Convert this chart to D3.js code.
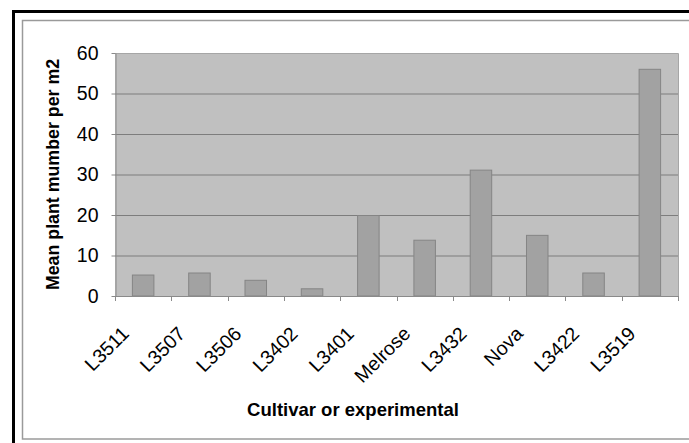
<!DOCTYPE html>
<html>
<head>
<meta charset="utf-8">
<script src="https://cdn.jsdelivr.net/npm/d3@7/dist/d3.min.js"></script>
<style>
  html, body { margin: 0; padding: 0; background: #ffffff; }
  svg { display: block; }
  text { font-family: "Liberation Sans", Arial, sans-serif; fill: #000; }
</style>
</head>
<body>
<svg id="chart" width="689" height="443"></svg>
<script>
// Mean plant number per m2 by cultivar / experimental line
const categories = ["L3511", "L3507", "L3506", "L3402", "L3401", "Melrose", "L3432", "Nova", "L3422", "L3519"];
const plantsPerM2 = [5.3, 5.8, 4.0, 1.9, 20.0, 13.9, 31.2, 15.1, 5.8, 56.1];
const yTicks = [0, 10, 20, 30, 40, 50, 60];
const yTitle = "Mean plant mumber per m2";
const xTitle = "Cultivar or experimental";

const svg = d3.select("#chart");
const W = 689, H = 443;
const plot = { left: 115, right: 678, top: 53, bottom: 296 };

// outer frame: heavy black border and thin grey inner border
svg.append("rect")
  .attr("x", 13.5).attr("y", 11.5)
  .attr("width", W + 20).attr("height", H + 20)
  .attr("fill", "#ffffff").attr("stroke", "#000").attr("stroke-width", 3);
svg.append("rect")
  .attr("x", 22.5).attr("y", 20.5)
  .attr("width", W + 20).attr("height", 418.5)
  .attr("fill", "#ffffff").attr("stroke", "#9a9a9a").attr("stroke-width", 1.5);

const x = d3.scaleBand()
  .domain(categories)
  .range([plot.left, plot.right])
  .paddingInner(0.6)
  .paddingOuter(0.3);

const y = d3.scaleLinear()
  .domain([0, 60])
  .range([plot.bottom, plot.top]);

// plot area background
svg.append("rect")
  .attr("x", plot.left).attr("y", y(60))
  .attr("width", plot.right - plot.left).attr("height", y(0) - y(60))
  .attr("fill", "#c0c0c0");

// horizontal gridlines
svg.append("g")
  .selectAll("line")
  .data(yTicks.filter(d => d > 0 && d < 60))
  .join("line")
  .attr("x1", plot.left).attr("x2", plot.right)
  .attr("y1", d => y(d) + 0.5).attr("y2", d => y(d) + 0.5)
  .attr("stroke", "#7d7d7d").attr("stroke-width", 1);

// plot area top and right edges
svg.append("path")
  .attr("d", `M${plot.left},${y(60) + 0.5}H${plot.right + 0.5}V${y(0)}`)
  .attr("fill", "none").attr("stroke", "#a6a6a6").attr("stroke-width", 1);

// bars
svg.append("g")
  .selectAll("rect")
  .data(categories.map((c, i) => ({ c, v: plantsPerM2[i] })))
  .join("rect")
  .attr("x", d => x(d.c) + 0.5)
  .attr("y", d => y(d.v) + 0.5)
  .attr("width", x.bandwidth() - 1)
  .attr("height", d => y(0) - y(d.v) - 0.5)
  .attr("fill", "#a2a2a2")
  .attr("stroke", "#858585")
  .attr("stroke-width", 1);

// y axis
const yAxis = svg.append("g")
  .attr("transform", `translate(${plot.left + 0.5},0)`)
  .call(d3.axisLeft(y).tickValues(yTicks).tickSize(4).tickPadding(13).tickSizeOuter(0));
yAxis.select(".domain").attr("stroke", "#8a8a8a");
yAxis.selectAll(".tick line").attr("stroke", "#8a8a8a");
yAxis.selectAll(".tick text")
  .attr("font-size", 19.5)
  .attr("font-family", "Liberation Sans, Arial, sans-serif")
  .attr("fill", "#000");

// x axis line with ticks at category boundaries
const step = x.step();
const boundaries = d3.range(categories.length + 1).map(i =>
  i < categories.length ? x(categories[i]) - step * x.paddingInner() / 2 : plot.right);
const xb = svg.append("g");
xb.append("line")
  .attr("x1", plot.left).attr("x2", plot.right + 0.5)
  .attr("y1", y(0) + 0.5).attr("y2", y(0) + 0.5)
  .attr("stroke", "#8a8a8a");
xb.selectAll("line.tk")
  .data(boundaries.map((b, i) => i === 0 ? plot.left : b))
  .join("line")
  .attr("class", "tk")
  .attr("x1", d => Math.round(d) + 0.5).attr("x2", d => Math.round(d) + 0.5)
  .attr("y1", y(0)).attr("y2", y(0) + 5)
  .attr("stroke", "#8a8a8a");

// rotated category labels
svg.append("g")
  .selectAll("text")
  .data(categories)
  .join("text")
  .attr("transform", d => `translate(${x(d) + x.bandwidth() / 2 - 18},${plot.bottom + 34}) rotate(-45)`)
  .attr("text-anchor", "end")
  .attr("dominant-baseline", "central")
  .attr("font-size", 19.5)
  .text(d => d);

// axis titles
svg.append("text")
  .attr("transform", `translate(59,${(plot.top + plot.bottom) / 2}) rotate(-90)`)
  .attr("text-anchor", "middle")
  .attr("font-size", 17.8)
  .attr("font-weight", "bold")
  .text(yTitle);

svg.append("text")
  .attr("x", 353).attr("y", 416)
  .attr("text-anchor", "middle")
  .attr("font-size", 18.5)
  .attr("font-weight", "bold")
  .text(xTitle);
</script>
</body>
</html>
